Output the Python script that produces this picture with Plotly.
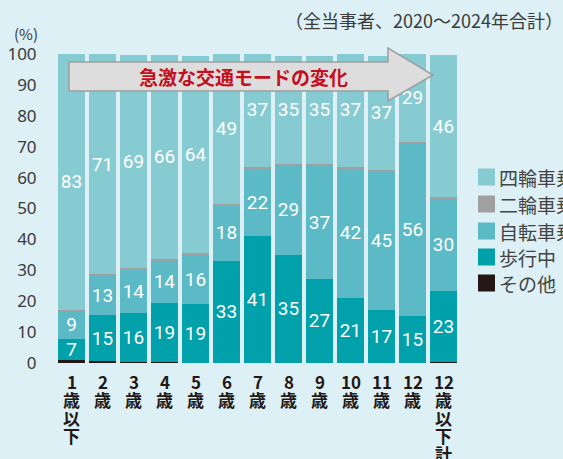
import plotly.graph_objects as go

# ---- data ----
categories = ["1歳以下", "2歳", "3歳", "4歳", "5歳", "6歳", "7歳", "8歳", "9歳", "10歳", "11歳", "12歳", "12歳以下計"]
label_lines = [["1", "歳", "以", "下"], ["2", "歳"], ["3", "歳"], ["4", "歳"], ["5", "歳"], ["6", "歳"],
               ["7", "歳"], ["8", "歳"], ["9", "歳"], ["10", "歳"], ["11", "歳"], ["12", "歳"],
               ["12", "歳", "以", "下", "計"]]
other = [0.9, 0.5, 0.3, 0.3, 0.1, 0.1, 0.1, 0.1, 0.1, 0.1, 0.1, 0.1, 0.2]        # その他
walk = [7, 15, 16, 19, 19, 33, 41, 35, 27, 21, 17, 15, 23]                           # 歩行中
bicycle = [9, 13, 14, 14, 16, 18, 22, 29, 37, 42, 45, 56, 30]                        # 自転車乗用中
moto = [0.4, 0.4, 0.4, 0.4, 0.4, 0.4, 0.4, 0.4, 0.4, 0.4, 0.4, 0.4, 0.4]             # 二輪車乗車中
car = [83, 71, 69, 66, 64, 49, 37, 35, 35, 37, 37, 29, 46]                           # 四輪車乗車中
y_ticks = list(range(0, 101, 10))

series_names = ["四輪車乗車中", "二輪車乗車中", "自転車乗用中", "歩行中", "その他"]
colors = {"四輪車乗車中": "#86cbd2", "二輪車乗車中": "#a0a0a0", "自転車乗用中": "#5bbac5",
          "歩行中": "#00a1ab", "その他": "#231815"}

BG = "#dcf0f6"
W, H = 563, 459
L, R, T, B = 56, 104, 54, 96
PW, PH = W - L - R, H - T - B


def px_x(p):
    return (p - L) / PW


def px_y(p):
    return (H - B - p) / PH


fig = go.Figure()
num_font = dict(family="Roboto, Noto Sans, sans-serif", size=19, color="white")
stack = [("その他", other, False), ("歩行中", walk, True), ("自転車乗用中", bicycle, True),
         ("二輪車乗車中", moto, False), ("四輪車乗車中", car, True)]
for name, vals, show_text in stack:
    fig.add_trace(go.Bar(
        x=categories, y=vals, name=name,
        marker=dict(color=colors[name], line=dict(width=0)),
        text=[str(v) for v in vals] if show_text else None,
        textposition="inside" if show_text else "none",
        insidetextanchor="middle", textangle=0, constraintext="none",
        insidetextfont=num_font, showlegend=False, hoverinfo="skip",
    ))

fig.update_layout(
    width=W, height=H, barmode="stack", bargap=0.13,
    paper_bgcolor=BG, plot_bgcolor=BG,
    margin=dict(l=L, r=R, t=T, b=B, autoexpand=False),
    showlegend=False,
)
fig.update_xaxes(showticklabels=False, showgrid=False, zeroline=False, showline=False,
                 range=[-0.5, len(categories) - 0.5])
fig.update_yaxes(range=[0, 100], tickvals=y_ticks, showgrid=False, zeroline=False, showline=False,
                 ticks="outside", ticklen=15, tickcolor=BG,
                 tickfont=dict(family="Noto Sans, sans-serif", size=17, color="#3a3a3a"))

# x labels (stacked vertical characters)
for cat, lines in zip(categories, label_lines):
    for k, ln in enumerate(lines):
        fig.add_annotation(x=cat, xref="x", y=0, yref="paper", yanchor="middle", xanchor="center",
                           yshift=-(18 + 18 * k), text=ln, showarrow=False,
                           font=dict(family="Noto Sans CJK JP", size=17, color="#231815", weight=700))

# arrow shape
pts = [(69, 62), (388, 62), (388, 48), (433, 75), (388, 101), (388, 91), (69, 91)]
path = "M " + " L ".join(f"{px_x(a):.4f},{px_y(b):.4f}" for a, b in pts) + " Z"
fig.add_shape(type="path", xref="paper", yref="paper", path=path,
              fillcolor="#dddddd", line=dict(color="#9e9e9e", width=1.5))
fig.add_annotation(x=px_x(243), y=px_y(76.5), xref="paper", yref="paper", xanchor="center", yanchor="middle",
                   text="急激な交通モードの変化", showarrow=False,
                   font=dict(family="Noto Sans CJK JP", size=19, color="#c40f1e", weight=700))

# custom legend
leg_y = [177, 204, 231, 257, 283]
for name, yc in zip(series_names, leg_y):
    fig.add_shape(type="rect", xref="paper", yref="paper",
                  x0=px_x(478), x1=px_x(495), y0=px_y(yc + 8.5), y1=px_y(yc - 8.5),
                  fillcolor=colors[name], line=dict(width=0))
    fig.add_annotation(x=px_x(497), y=px_y(yc), xref="paper", yref="paper", xanchor="left",
                       yanchor="middle", text=name, showarrow=False,
                       font=dict(family="Noto Sans CJK JP", size=19, color="#444444"))

# titles
fig.add_annotation(x=px_x(40), y=px_y(33), xref="paper", yref="paper", xanchor="right", yanchor="middle",
                   text="(%)", showarrow=False,
                   font=dict(family="Noto Sans CJK JP", size=15, color="#3a3a3a"))
fig.add_annotation(x=px_x(565), y=px_y(20), xref="paper", yref="paper", xanchor="right", yanchor="middle",
                   text="（全当事者、2020～2024年合計）", showarrow=False,
                   font=dict(family="Noto Sans CJK JP", size=18, color="#3a3a3a"))

fig.write_html("out.html", config={"displayModeBar": False},
               post_script="document.body.style.margin='0';document.body.style.overflow='hidden';"
                           "document.body.style.background='" + BG + "';")
